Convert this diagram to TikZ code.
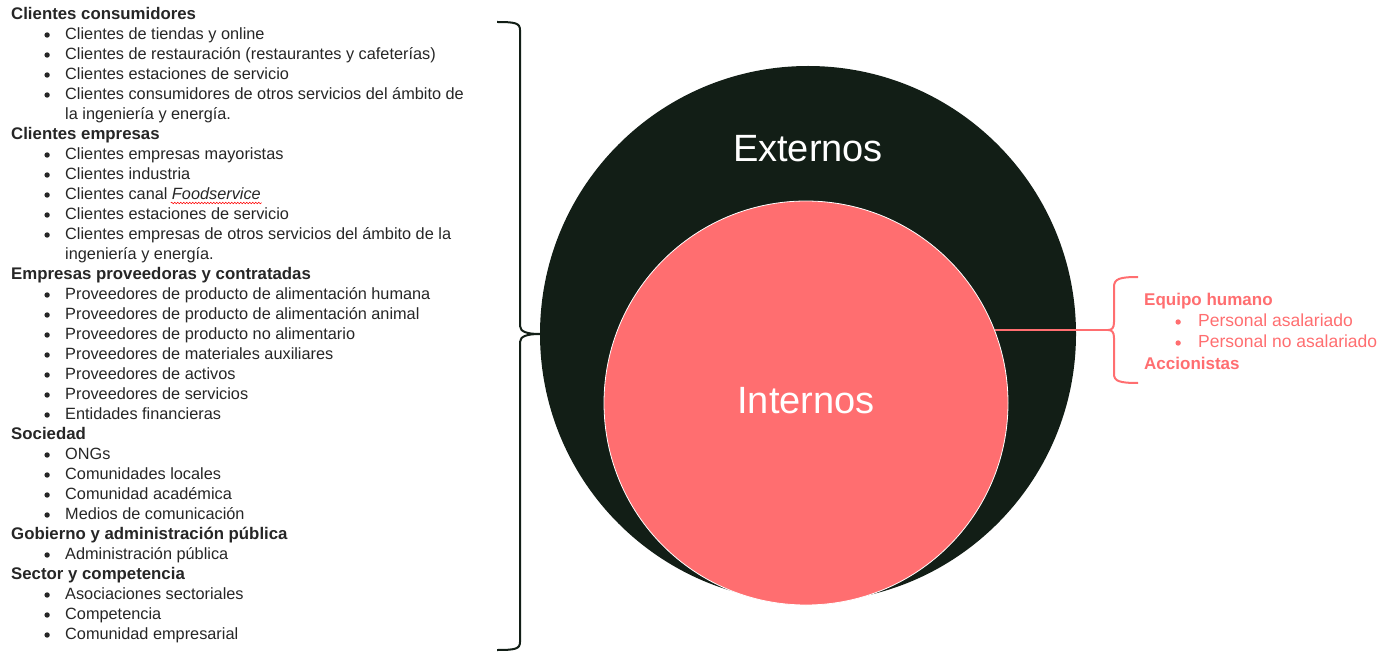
\documentclass[tikz,border=0pt]{standalone}
\usepackage{fontspec}
\setmainfont{Liberation Sans}
\usetikzlibrary{positioning,decorations.pathmorphing}
\definecolor{verdenoche}{HTML}{121E16}
\definecolor{coral}{HTML}{FF6E70}
\definecolor{texto}{HTML}{262626}
\tikzset{
  grupo/.style={anchor=west, inner sep=1pt, text height=12pt, text depth=3.5pt,
    text=texto, font=\fontsize{16.8}{19}\selectfont\bfseries},
  linea/.style={anchor=west, inner sep=1pt, text height=12pt, text depth=3.5pt,
    text=texto, font=\fontsize{16.3}{19}\selectfont},
  elem/.style={linea, label={[circle, fill=texto, inner sep=1.9pt, label distance=14pt]left:{}}},
  grupoc/.style={grupo, text=coral, font=\fontsize{17}{19}\selectfont\bfseries},
  elemc/.style={linea, text=coral, font=\fontsize{17.5}{19}\selectfont,
    label={[circle, fill=coral, inner sep=1.9pt, label distance=16pt]left:{}}},
  rotulo/.style={text=white, font=\fontsize{38}{42}\selectfont},
  llave/.style={draw=verdenoche, line width=2pt},
}
\begin{document}
\begin{tikzpicture}[x=1pt, y=-1pt]
\useasboundingbox (0,0) rectangle (1381,652);

% circulos
\node[circle, fill=verdenoche, minimum size=536pt, inner sep=0pt] (ext) at (808,334) {};
\node[circle, fill=coral, draw=white, line width=0.8pt, minimum size=404pt, inner sep=0pt] (int) at (806,403) {};
\node[rotulo] (externos) at (808,149) {Externos};
\node[rotulo] (internos) at (806,401) {Internos};

% grupos externos
\node[grupo] (g1) at (10,15) {Clientes consumidores};
\node[elem] (g1a) at (64,35) {Clientes de tiendas y online};
\node[elem] (g1b) at (64,55) {Clientes de restauración (restaurantes y cafeterías)};
\node[elem] (g1c) at (64,75) {Clientes estaciones de servicio};
\node[elem] (g1d) at (64,95) {Clientes consumidores de otros servicios del ámbito de};
\node[linea] (g1e) at (64,115) {la ingeniería y energía.};
\node[grupo] (g2) at (10,135) {Clientes empresas};
\node[elem] (g2a) at (64,155) {Clientes empresas mayoristas};
\node[elem] (g2b) at (64,175) {Clientes industria};
\node[elem] (g2c) at (64,195) {Clientes canal};
\node[linea, right=2pt of g2c] (fs) {\textit{Foodservice}};
\node[elem] (g2d) at (64,215) {Clientes estaciones de servicio};
\node[elem] (g2e) at (64,235) {Clientes empresas de otros servicios del ámbito de la};
\node[linea] (g2f) at (64,255) {ingeniería y energía.};
\node[grupo] (g3) at (10,275) {Empresas proveedoras y contratadas};
\node[elem] (g3a) at (64,295) {Proveedores de producto de alimentación humana};
\node[elem] (g3b) at (64,315) {Proveedores de producto de alimentación animal};
\node[elem] (g3c) at (64,335) {Proveedores de producto no alimentario};
\node[elem] (g3d) at (64,355) {Proveedores de materiales auxiliares};
\node[elem] (g3e) at (64,375) {Proveedores de activos};
\node[elem] (g3f) at (64,395) {Proveedores de servicios};
\node[elem] (g3g) at (64,415) {Entidades financieras};
\node[grupo] (g4) at (10,435) {Sociedad};
\node[elem] (g4a) at (64,455) {ONGs};
\node[elem] (g4b) at (64,475) {Comunidades locales};
\node[elem] (g4c) at (64,495) {Comunidad académica};
\node[elem] (g4d) at (64,515) {Medios de comunicación};
\node[grupo] (g5) at (10,535) {Gobierno y administración pública};
\node[elem] (g5a) at (64,555) {Administración pública};
\node[grupo] (g6) at (10,575) {Sector y competencia};
\node[elem] (g6a) at (64,595) {Asociaciones sectoriales};
\node[elem] (g6b) at (64,615) {Competencia};
\node[elem] (g6c) at (64,635) {Comunidad empresarial};

\draw[red, line width=0.5pt, decorate, decoration={snake, amplitude=0.8pt, segment length=3pt}]
  ([yshift=1pt]fs.south west) -- ([yshift=1pt]fs.south east);

% llave externos
\draw[llave] (497,22) .. controls (515,22) and (520,23) .. (520,30) -- (520,326)
  .. controls (520,332) and (528,334) .. (ext.west)
  .. controls (528,334) and (520,336) .. (520,342) -- (520,642)
  .. controls (520,649) and (515,650) .. (497,650);

% grupos internos
\coordinate (punta) at (1108,330);
\draw[coral, line width=2pt] (int.21) -- (int.21 -| punta);
\draw[llave, draw=coral] (1138,277) .. controls (1119,277) and (1114,279) .. (1114,287) -- (1114,322)
  .. controls (1114,328) and (1112,330) .. (punta)
  .. controls (1112,330) and (1114,332) .. (1114,338) -- (1114,374)
  .. controls (1114,381) and (1119,383) .. (1138,383);
\node[grupoc] (eh) at (1143,301) {Equipo humano};
\node[elemc] (eha) at (1197,322) {Personal asalariado};
\node[elemc] (ehb) at (1197,343) {Personal no asalariado};
\node[grupoc] (acc) at (1143,365) {Accionistas};
\end{tikzpicture}
\end{document}
